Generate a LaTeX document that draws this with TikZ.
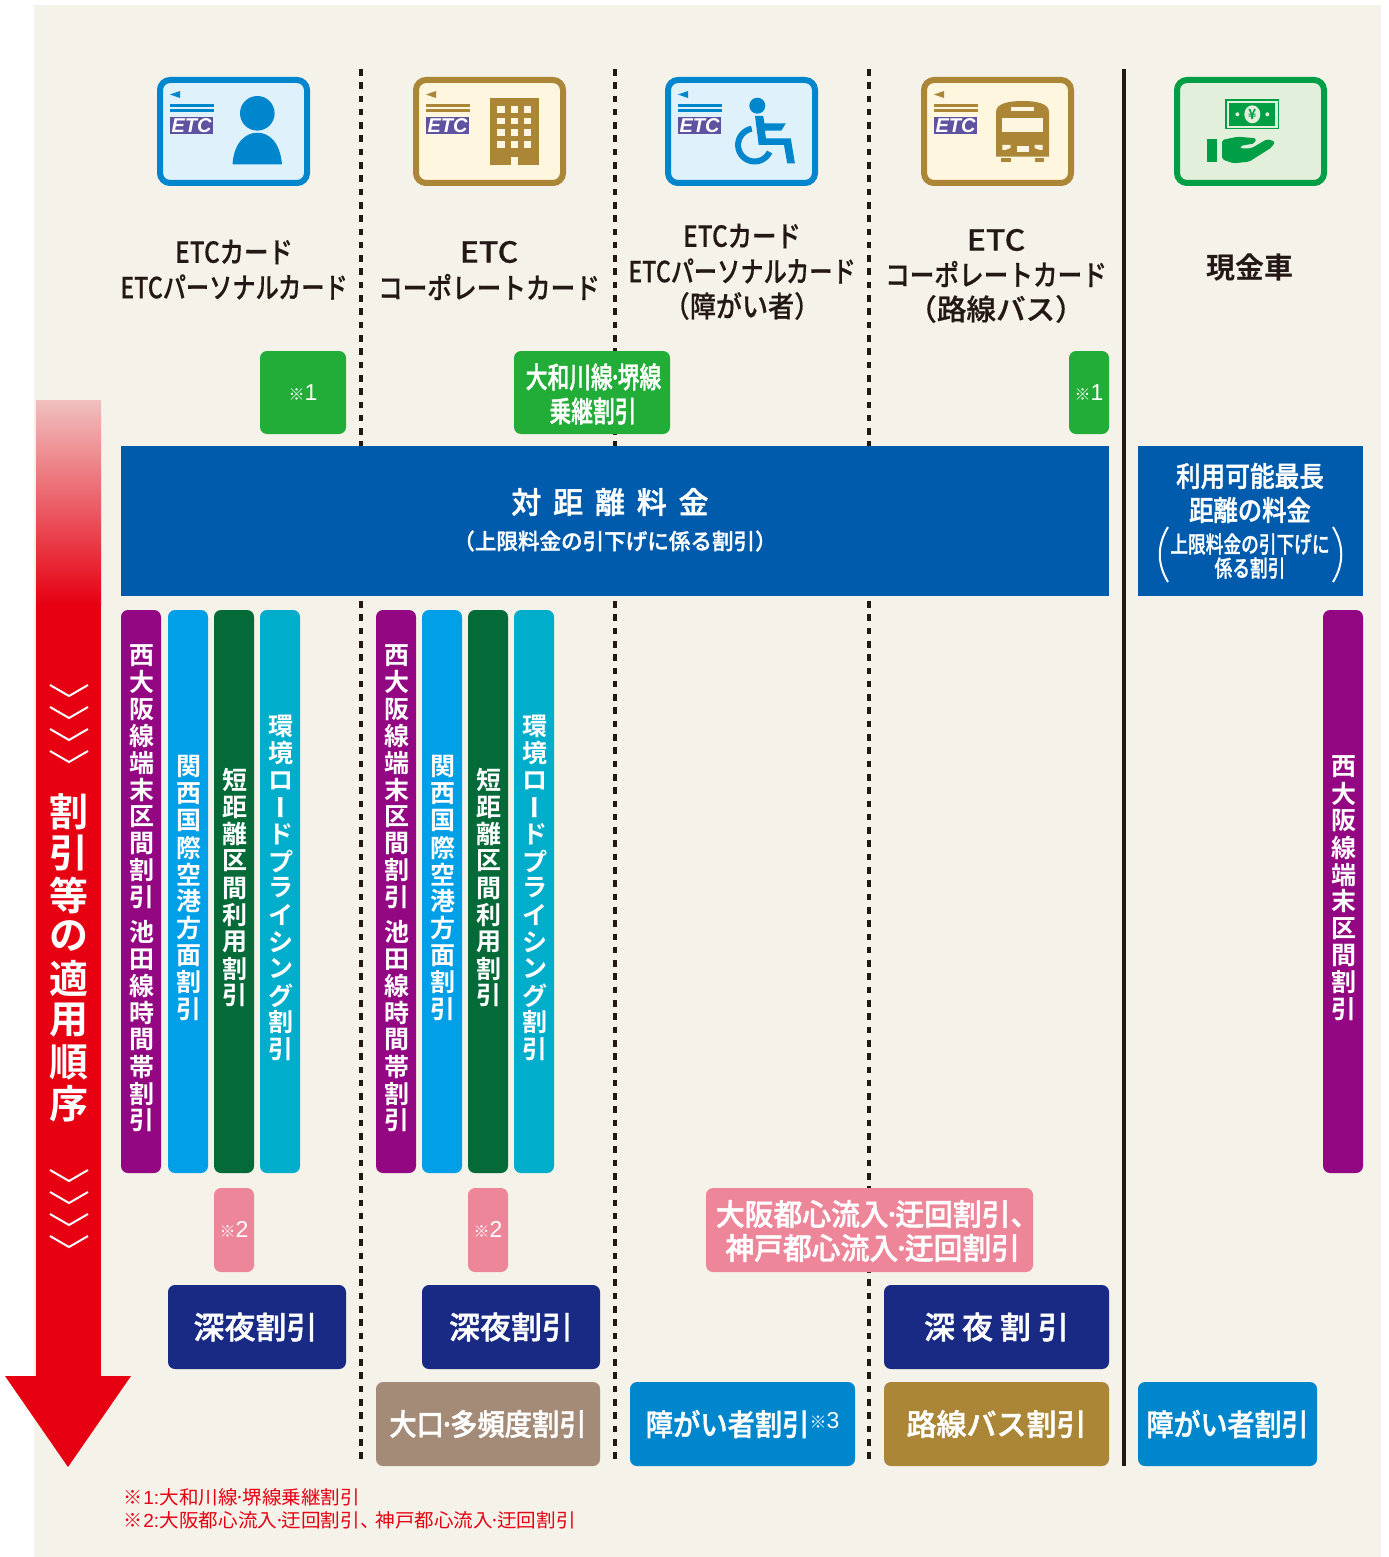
\documentclass[tikz,border=0pt]{standalone}
\usepackage{fontspec}
\setmainfont{Noto Sans CJK JP}
\newfontfamily\cjk{Noto Sans CJK JP}[BoldFont={Noto Sans CJK JP Bold}]
\newfontfamily\cjkm{Noto Sans CJK JP Medium}[FakeBold=0.5]
\newfontfamily\cjkw{Noto Sans CJK JP Medium}[FakeBold=1.4]
\newfontfamily\cjkv{Noto Sans CJK JP}[RawFeature=+vert]
\newfontfamily\etcf{Liberation Sans}
\definecolor{bgc}{HTML}{F5F2EA}
\definecolor{redc}{HTML}{E60012}
\definecolor{redt}{HTML}{F0C0BF}
\definecolor{bluec}{HTML}{0086CD}
\definecolor{bluef}{HTML}{DFF1FB}
\definecolor{tanc}{HTML}{AB8636}
\definecolor{tanf}{HTML}{FFF6E0}
\definecolor{greenc}{HTML}{009E45}
\definecolor{greenf}{HTML}{E2EFDA}
\definecolor{etcp}{HTML}{5F52A0}
\definecolor{gbox}{HTML}{22AC38}
\definecolor{band}{HTML}{005BAC}
\definecolor{purp}{HTML}{930783}
\definecolor{sky}{HTML}{009FE8}
\definecolor{dgreen}{HTML}{036A38}
\definecolor{teal2}{HTML}{00AECC}
\definecolor{pinkc}{HTML}{EE869A}
\definecolor{navy}{HTML}{192A85}
\definecolor{taupe}{HTML}{A48B78}
\definecolor{inkc}{HTML}{231815}
\tikzset{
  x=0.5pt,y=-0.5pt,
  rbox/.style={rounded corners=3.5pt,inner sep=0pt,text=white,align=center},
  sbox/.style={inner sep=0pt,text=white,align=center},
  txt/.style={inner sep=0pt,align=center,text=inkc},
  wtxt/.style={inner sep=0pt,align=center,text=white},
  dotline/.style={draw=inkc,line width=2pt,dash pattern=on 3.3pt off 3.35pt},
  chev/.style={draw=white,line width=1pt},
}
\newcommand\bx[8]{\node[#6,fill=#7,minimum width={(#4-#2)*0.5pt},minimum height={(#5-#3)*0.5pt}] (#1) at ({(#2+#4)/2},{(#3+#5)/2}) {#8};}
\newcommand\fs[1]{\fontsize{#1}{#1}\selectfont}
\newcommand\sx[2]{\scalebox{#1}[1]{#2}}
\newcommand\up[1]{\raisebox{.5pt}{#1}}
\newcommand\nd{\makebox[0.23em][c]{·}}
\newcommand\refmark[1]{{\cjk\fs{8}※}{\etcf\fs{11.5}#1}}
\newcommand\refsmall[1]{{\cjk\fs{8.5}※}{\etcf\fs{11.5}#1}}
% vertical text
\newcommand\vchar[1]{\vbox to 13.45pt{\vss\hbox to 14pt{\kern0.8pt\hss#1\hss}\vss}}
\def\vtloop#1{\ifx#1\relax\else\vchar{#1}\expandafter\vtloop\fi}
\newcommand\vt[1]{\vtloop#1\relax}
\newcommand\vbar{{\cjkv ー}}
\newcommand\vv[1]{\vbox{\offinterlineskip\cjk\bfseries\fs{12.5}\vt{#1}\kern3.5pt}}
\newcommand\vvv[2]{\vbox{\offinterlineskip\cjk\bfseries\fs{12.5}\vt{#1}\kern4pt\vt{#2}\kern3.5pt}}
\newcommand\cardbase[4]{%
  \node[draw=#3,fill=#4,line width=3pt,rounded corners=5pt,inner sep=0pt,minimum width=73.5pt,minimum height=51.5pt] (#1) at ({#2+76.5},131.5) {};
}
\newcommand\cardmarks[2]{%
  \fill[#2] (#1+13,94.5) -- (#1+23,91) -- (#1+23,98) -- cycle;
  \fill[#2] (#1+13,104) rectangle (#1+57,107.5);
  \fill[#2] (#1+13,109) rectangle (#1+57,112.5);
}
\newcommand\etcmark[2]{%
  \node[fill=etcp,inner sep=0pt,minimum width=21.5pt,minimum height=8.5pt,text=white,font=\etcf\bfseries\itshape\fs{10}] (#1) at ({#2+34.5},125.5) {ETC};
}
\begin{document}
\begin{tikzpicture}
\useasboundingbox (0,0) rectangle (1388,1557);
\fill[bgc] (34,5) rectangle (1381,1557);

% red arrow
\shade[top color=redt,bottom color=redc] (36,400) rectangle (101,605);
\fill[redc] (36,604) rectangle (101,1376);
\fill[redc] (5,1376) -- (131,1376) -- (68,1467) -- cycle;
\foreach \yy in {685,707,729,751,1170,1192,1214,1236}
  \draw[chev] (50,\yy) -- (69,\yy+11) -- (88,\yy);
\foreach \ch/\yy [count=\i] in {割/812,引/853,等/895,の/936,適/978,用/1020,順/1062,序/1104}
  \node[wtxt,font=\cjk\bfseries\fs{19.5}] (ord\i) at (69,\yy) {\ch};

% separators
\coordinate (d1t) at (361,69); \coordinate (d1b) at (361,1465);
\coordinate (d2t) at (615,69); \coordinate (d2b) at (615,1465);
\coordinate (d3t) at (869,69); \coordinate (d3b) at (869,1465);
\coordinate (s1t) at (1124,69); \coordinate (s1b) at (1124,1466);
\draw[dotline] (d1t) -- (d1b);
\draw[dotline] (d2t) -- (d2b);
\draw[dotline] (d3t) -- (d3b);
\draw[draw=inkc,line width=1.8pt] (s1t) -- (s1b);

% card 1
\cardbase{c1}{157}{bluec}{bluef}
\cardmarks{157}{bluec}
\etcmark{e1}{157}
\fill[bluec] (257.3,113.3) circle[radius=17.3];
\fill[bluec] (232.5,164.3) .. controls (234,142) and (246,132.7) .. (257.3,132.7) .. controls (269,132.7) and (280,142) .. (282,164.3) -- cycle;
% card 2
\cardbase{c2}{413}{tanc}{tanf}
\cardmarks{413}{tanc}
\etcmark{e2}{413}
\fill[tanc] (490,98.3) rectangle (538.7,165);
\foreach \wx in {497.3,510.6,524} \foreach \wy in {106,117.7,129.3,141}
  \fill[tanf] (\wx,\wy) rectangle (\wx+7.3,\wy+6.7);
\fill[tanf] (511,157.3) rectangle (518.3,165);
% card 3
\cardbase{c3}{665}{bluec}{bluef}
\cardmarks{665}{bluec}
\etcmark{e3}{665}
\fill[bluec] (757.3,105.7) circle[radius=8];
\fill[bluec] (755,116) -- (763.2,116) -- (764.5,123.3) -- (785.8,123.3) -- (781.3,130.7) -- (765,130.7) -- (765.9,138.3) -- (790.8,138.3) -- (794.9,163.3) -- (787.2,163.3) -- (784,145) -- (758.7,145) -- cycle;
\draw[bluec,line width=3pt] plot[smooth,domain=100:335,samples=30] ({754.6+16.5*cos(\x)},{145-16.5*sin(\x)});
% card 4
\cardbase{c4}{921}{tanc}{tanf}
\cardmarks{921}{tanc}
\etcmark{e4}{921}
\fill[tanc] (996,156.7) -- (996,112) .. controls (996,103) and (1010,101) .. (1022.5,101) .. controls (1035,101) and (1049,103) .. (1049,112) -- (1049,156.7) -- cycle;
\fill[tanf] (1010.5,106.7) rectangle (1033.6,110.7);
\fill[tanf] (1002.3,117.7) rectangle (1042.6,132);
\fill[tanf] (1002.3,145) -- (1010.5,145) -- (1010.5,148) -- (1005,150) -- (1002.3,150) -- cycle;
\fill[tanf] (1016.8,146) rectangle (1028.6,152.3);
\fill[tanf] (1034.5,145) -- (1042.6,145) -- (1042.6,150) -- (1040,150) -- (1034.5,148) -- cycle;
\fill[tanc] (1000.5,157.7) rectangle (1010.5,162.3);
\fill[tanc] (1034.5,157.7) rectangle (1044,162.3);
% card 5
\cardbase{c5}{1174}{greenc}{greenf}
\fill[greenc] (1225,99.3) rectangle (1279,129.3);
\fill[greenf] (1226.5,100.8) rectangle (1277.5,127.8);
\fill[greenc] (1229,103) rectangle (1275,125.6);
\fill[greenf] (1252.3,114.3) ellipse[x radius=8,y radius=9];
\fill[greenf] (1237.4,114.3) circle[radius=2];
\fill[greenf] (1267.3,114.3) circle[radius=2];
\node[inner sep=0pt,text=greenc,font=\cjk\bfseries\fs{7}] (yen) at (1252.3,114.3) {¥};
\fill[greenc] (1207,139.3) rectangle (1217,162);
\fill[greenc,rounded corners=1pt] (1222,140) -- (1237.8,136.7) -- (1256,138.3) -- (1255,143.3) -- (1240,146) -- (1240,148.3) -- (1251.4,148.3) -- (1267.3,139) -- (1275,141.7) -- (1271.8,147.3) -- (1249.1,161.7) -- (1233.3,163.3) -- (1222,159.3) -- cycle;

% titles
\node[txt,font=\cjkm\fs{14.5}] (t1a) at (234,252) {\sx{.84}{ETCカード}};
\node[txt,font=\cjkm\fs{14.5}] (t1b) at (234,287) {\sx{.80}{ETCパーソナルカード}};
\node[txt,font=\cjkm\fs{14.5}] (t2a) at (489,252) {\sx{1.1}{ETC}};
\node[txt,font=\cjkm\fs{14.5}] (t2b) at (489,287) {\sx{.85}{コーポレートカード}};
\node[txt,font=\cjkm\fs{14.5}] (t3a) at (742,236) {\sx{.84}{ETCカード}};
\node[txt,font=\cjkm\fs{14.5}] (t3b) at (742,271) {\sx{.80}{ETCパーソナルカード}};
\node[txt,font=\cjkm\fs{14.5}] (t3c) at (742,306) {\sx{.9}{（障がい者）}};
\node[txt,font=\cjkm\fs{14.5}] (t4a) at (996,240) {\sx{1.1}{ETC}};
\node[txt,font=\cjkm\fs{14.5}] (t4b) at (996,274) {\sx{.85}{コーポレートカード}};
\node[txt,font=\cjkm\fs{14.5}] (t4c) at (996,309) {\sx{1.02}{（路線バス）}};
\node[txt,font=\cjk\bfseries\fs{14.5}] (t5) at (1250,268) {現金車};

% green
\bx{g1}{260}{351}{346}{434}{rbox}{gbox}{\refmark{1}}
\bx{g2}{514}{351}{670}{434}{rbox}{gbox}{}
\node[wtxt,font=\cjkw\fs{14.5}] (g2a) at (593.5,377) {\sx{.75}{大和川線\nd 堺線}};
\node[wtxt,font=\cjkw\fs{14.5}] (g2b) at (593,411) {\sx{.75}{乗継割引}};
\bx{g3}{1069}{351}{1109}{434}{rbox}{gbox}{\refmark{1}}

% bands
\bx{b1}{121}{446}{1109}{596}{sbox}{band}{}
\node[wtxt,font=\cjkw\fs{15}] (b1a) at (610,502) {対\hspace{5.9pt}距\hspace{5.9pt}離\hspace{5.9pt}料\hspace{5.9pt}金};
\node[wtxt,font=\cjkw\fs{11}] (b1b) at (615,541) {\sx{.98}{（上限料金の引下げに係る割引）}};
\bx{b2}{1138}{446}{1363}{596}{sbox}{band}{}
\node[wtxt,font=\cjkw\fs{14}] (b2a) at (1250,476) {\sx{.88}{利用可能最長}};
\node[wtxt,font=\cjkw\fs{14}] (b2b) at (1250,510) {\sx{.87}{距離の料金}};
\node[wtxt,font=\cjkw\fs{11.5}] (b2c) at (1250,544) {\sx{.77}{上限料金の引下げに}};
\node[wtxt,font=\cjkw\fs{11.5}] (b2d) at (1250,568) {\sx{.77}{係る割引}};
\draw[white,line width=1pt] (1168,527) .. controls (1157,545) and (1157,564) .. (1168,582);
\draw[white,line width=1pt] (1333,527) .. controls (1344,545) and (1344,564) .. (1333,582);

% vertical bars
\bx{v1}{121}{610}{161}{1173}{rbox}{purp}{\vvv{西大阪線端末区間割引}{池田線時間帯割引}}
\bx{v2}{168}{610}{208}{1173}{rbox}{sky}{\vv{関西国際空港方面割引}}
\bx{v3}{214}{610}{254}{1173}{rbox}{dgreen}{\vv{短距離区間利用割引}}
\bx{v4}{260}{610}{300}{1173}{rbox}{teal2}{\vv{環境ロ\vbar ドプライシング割引}}
\bx{v5}{376}{610}{416}{1173}{rbox}{purp}{\vvv{西大阪線端末区間割引}{池田線時間帯割引}}
\bx{v6}{422}{610}{462}{1173}{rbox}{sky}{\vv{関西国際空港方面割引}}
\bx{v7}{468}{610}{508}{1173}{rbox}{dgreen}{\vv{短距離区間利用割引}}
\bx{v8}{514}{610}{554}{1173}{rbox}{teal2}{\vv{環境ロ\vbar ドプライシング割引}}
\bx{v9}{1323}{610}{1363}{1173}{rbox}{purp}{\vv{西大阪線端末区間割引}}

% pink
\bx{p1}{214}{1188}{254}{1272}{rbox}{pinkc}{\up{\refmark{2}}}
\bx{p2}{468}{1188}{508}{1272}{rbox}{pinkc}{\up{\refmark{2}}}
\bx{p3}{706}{1188}{1033}{1272}{rbox}{pinkc}{}
\node[wtxt,font=\cjkw\fs{15},anchor=west] (p3a) at (715.5,1214) {\sx{.96}{大阪都心流入\nd 迂回割引、}};
\node[wtxt,font=\cjkw\fs{15},anchor=west] (p3b) at (725,1248) {\sx{.96}{神戸都心流入\nd 迂回割引}};

% bottom boxes
\bx{n1}{168}{1285}{346}{1369}{rbox}{navy}{\kern-1.5pt\up{\cjkw\fs{15.5}深夜割引}}
\bx{n2}{422}{1285}{600}{1369}{rbox}{navy}{\up{\cjkw\fs{15.5}深夜割引}}
\bx{n3}{884}{1285}{1109}{1369}{rbox}{navy}{\up{\cjkw\fs{15.5}深 夜 割 引}}
\bx{m1}{376}{1382}{600}{1466}{rbox}{taupe}{\up{\cjkw\fs{15}\sx{.91}{大口\nd 多頻度割引}}}
\bx{m2}{630}{1382}{855}{1466}{rbox}{bluec}{\up{\cjkw\fs{15}\sx{.91}{障がい者割引}\raisebox{3.5pt}{\refsmall{3}}}}
\bx{m3}{884}{1382}{1109}{1466}{rbox}{tanc}{\up{\cjkw\fs{15}\sx{1}{路線バス割引}}}
\bx{m4}{1138}{1382}{1317}{1466}{rbox}{bluec}{\up{\cjkw\fs{15}\sx{.9}{障がい者割引}}}

% notes
\node[inner sep=0pt,anchor=west,text=redc,font=\cjk\fs{9.5}] (fn1) at (123,1497) {※{\etcf\fs{9.5}\kern0.5pt 1:\kern0.3pt}\sx{1.03}{大和川線\nd 堺線乗継割引}};
\node[inner sep=0pt,anchor=west,text=redc,font=\cjk\fs{9.5}] (fn2) at (123,1520) {※{\etcf\fs{9.5}\kern0.5pt 2:\kern0.3pt}\sx{1.03}{大阪都心流入\nd 迂回割引、\kern-2pt 神戸都心流入\nd 迂回割引}};
\end{tikzpicture}
\end{document}
